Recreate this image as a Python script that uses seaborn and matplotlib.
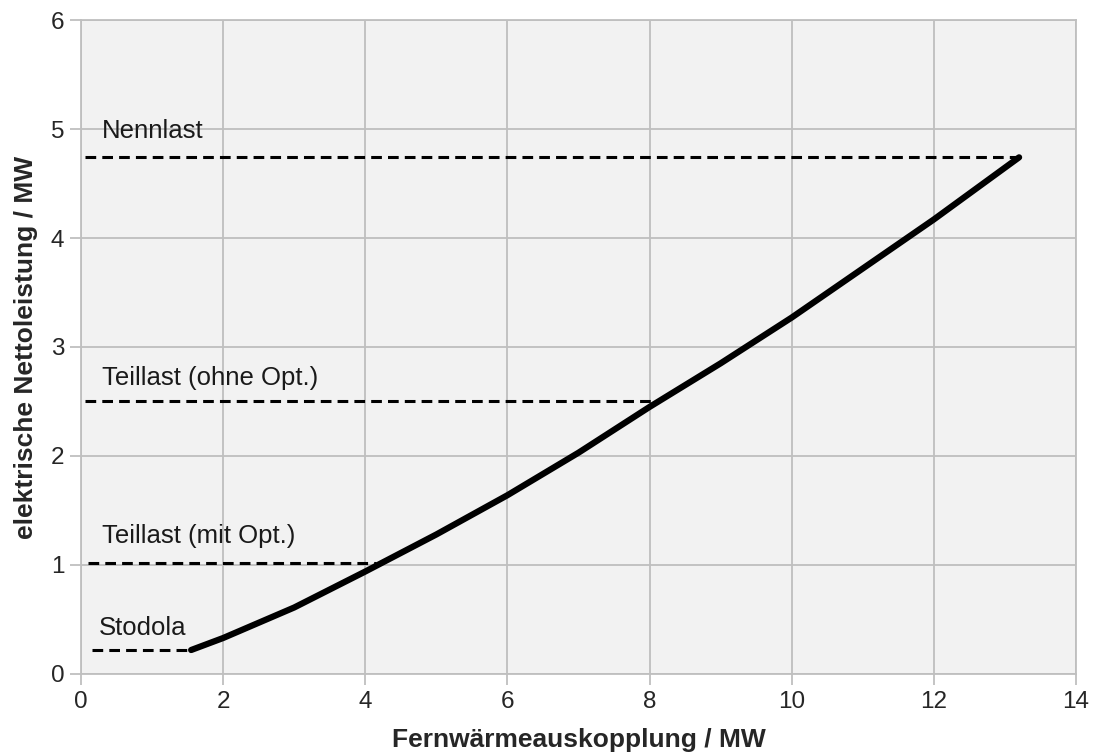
import pandas as pd
import matplotlib.pyplot as plt
import seaborn as sns

# Kennlinie: Fernwärmeauskopplung vs. elektrische Nettoleistung
heat_mw = [1.55, 2.0, 3.0, 4.0, 5.0, 6.0, 7.0, 8.0, 9.0, 10.0, 11.0, 12.0, 13.2]
power_mw = [0.22, 0.33, 0.61, 0.94, 1.28, 1.64, 2.03, 2.45, 2.85, 3.27, 3.72, 4.17, 4.74]

# Betriebspunkte (horizontale Hilfslinien)
point_names = ['Nennlast', 'Teillast (ohne Opt.)', 'Teillast (mit Opt.)', 'Stodola']
point_levels = [4.74, 2.50, 1.02, 0.22]
point_start = [0.05, 0.05, 0.10, 0.16]
point_end = [13.2, 8.15, 4.15, 1.55]
label_x = [0.30, 0.30, 0.30, 0.25]
label_y = [4.92, 2.65, 1.20, 0.36]

grid_grey = '#bfbfbf'

sns.set_style('whitegrid', {
    'axes.facecolor': '#f2f2f2',
    'axes.edgecolor': grid_grey,
    'grid.color': grid_grey,
})
plt.rcParams['font.family'] = ['Liberation Sans', 'DejaVu Sans']

fig = plt.figure(figsize=(10.93, 7.55), dpi=100)
ax = fig.add_axes([0.0741, 0.1073, 0.9103, 0.8662])

df = pd.DataFrame({'heat': heat_mw, 'power': power_mw})
sns.lineplot(data=df, x='heat', y='power', ax=ax, color='black', lw=4.5,
             solid_capstyle='round', zorder=4)

for name, lvl, x0, x1, tx, ty in zip(point_names, point_levels, point_start,
                                     point_end, label_x, label_y):
    seg = pd.DataFrame({'x': [x0, x1], 'y': [lvl, lvl]})
    sns.lineplot(data=seg, x='x', y='y', ax=ax, color='black', lw=2.2,
                 zorder=3).lines[-1].set_dashes((3.5, 2))
    ax.text(tx, ty, name, fontsize=18.5, color='#1a1a1a', va='baseline')

ax.set_xlim(0, 14)
ax.set_ylim(0, 6)
ax.set_xticks(range(0, 15, 2))
ax.set_yticks(range(0, 7))
ax.grid(True, color=grid_grey, lw=1.3)
ax.tick_params(axis='both', direction='out', bottom=True, left=True,
               length=8, width=1.3, color=grid_grey,
               labelsize=17.5, labelcolor='#262626', pad=4)
for s in ax.spines.values():
    s.set_color(grid_grey)
    s.set_linewidth(1.3)

ax.set_xlabel('Fernwärmeauskopplung / MW', fontsize=19, fontweight='bold')
ax.set_ylabel('elektrische Nettoleistung / MW', fontsize=19, fontweight='bold')
ax.xaxis.set_label_coords(0.5, -0.083)
ax.yaxis.set_label_coords(-0.043, 0.5)

fig.savefig('out.png', dpi=100)
